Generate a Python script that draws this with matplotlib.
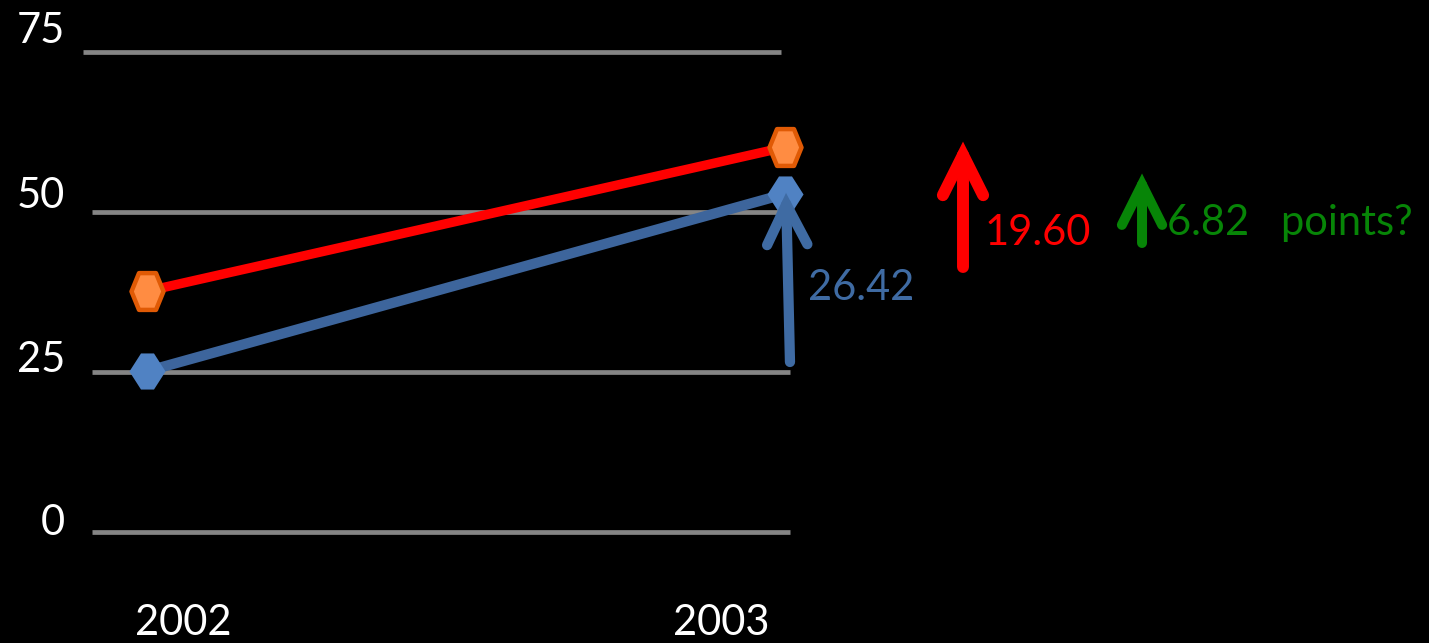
import matplotlib
matplotlib.use("Agg")
import matplotlib.pyplot as plt
from matplotlib.path import Path
from matplotlib.patches import FancyArrowPatch, ArrowStyle

# ---- data -------------------------------------------------------------
years = ["2002", "2003"]
red_series = [37.7, 60.2]
blue_series = [25.2, 52.9]
y_ticks = [0, 25, 50, 75]
y_tick_labels = ["0", "25", "50", "75"]

blue_change = 26.42
red_change = 19.60
gap_change = 6.82
blue_change_label = "26.42"
red_change_label = "19.60"
gap_label = "6.82  points?"

# ---- styling ----------------------------------------------------------
plt.rcParams["font.family"] = ["Lato", "DejaVu Sans"]
FS = 30

RED = "#FF0000"
ORANGE_FILL = "#FF8C42"
ORANGE_EDGE = "#E05A05"
BLUE_LINE = "#3D659C"
BLUE_MARK = "#5082C3"
BLUE_TEXT = "#3F6BA3"
GREEN = "#078507"
GRID = "#858585"

fig = plt.figure(figsize=(14.29, 6.43), dpi=100, facecolor="black")
ax = fig.add_axes([0, 0, 1, 1])
ax.set_facecolor("black")
ax.set_xlim(-0.2304, 2.0094)
ax.set_ylim(-17.27, 83.20)
ax.axis("off")

x = list(range(len(years)))

# horizontal guide lines (the top one sits a little further left)
grid_spans = {0: (-0.0862, 1.0078), 25: (-0.0862, 1.0078),
              50: (-0.0862, 1.0078), 75: (-0.1003, 0.9937)}
for v in y_ticks:
    x0, x1 = grid_spans[v]
    ax.plot([x0, x1], [v, v], color=GRID, lw=3.4, solid_capstyle="butt", zorder=1)

# y labels, right aligned to the left of the guide lines
label_lift = {0: -0.39, 25: 0.08, 50: 0.70, 75: 1.48}
for v, lab in zip(y_ticks, y_tick_labels):
    ax.text(-0.1285, v + label_lift[v], lab, color="white", fontsize=FS,
            ha="right", va="baseline")

# year labels
year_x = [0.0572, 0.8997]
for xp, lab in zip(year_x, years):
    ax.text(xp, -16.02, lab, color="white", fontsize=FS, ha="center", va="baseline")

# hexagon markers
codes = [Path.MOVETO] + [Path.LINETO] * 5 + [Path.CLOSEPOLY]
blue_hex = Path([(1, 0), (0.36, 1), (-0.36, 1), (-1, 0), (-0.36, -1), (0.36, -1), (1, 0)], codes)
orange_hex = Path([(1, 0), (0.53, 1.15), (-0.53, 1.15), (-1, 0), (-0.53, -1.15), (0.53, -1.15), (1, 0)], codes)

ax.plot(x, red_series, color=RED, lw=6.8, solid_capstyle="butt", zorder=2)
ax.plot(x, blue_series, color=BLUE_LINE, lw=7.4, solid_capstyle="butt", zorder=2)
ax.plot(x, red_series, ls="none", marker=orange_hex, ms=26.5,
        mfc=ORANGE_FILL, mec=ORANGE_EDGE, mew=3.2, zorder=3)
ax.plot(x, blue_series, ls="none", marker=blue_hex, ms=26,
        mfc=BLUE_MARK, mew=0, zorder=3)


def up_arrow(x0, y0, x1, y1, color, lw):
    style = ArrowStyle("->", head_length=29, head_width=14.5)
    arr = FancyArrowPatch((x0, y0), (x1, y1), arrowstyle=style, mutation_scale=1,
                          color=color, lw=lw, capstyle="round", joinstyle="miter",
                          shrinkA=0, shrinkB=0, zorder=4)
    ax.add_patch(arr)


# change arrows: blue and red arrows are as long as their stated change
blue_base = 26.64
up_arrow(1.0078, blue_base, 1.0016, blue_base + blue_change, BLUE_TEXT, 7.4)
ax.text(1.036, 36.33, blue_change_label, color=BLUE_TEXT, fontsize=FS, ha="left", va="baseline")

red_base = 41.48
up_arrow(1.279, red_base, 1.279, red_base + red_change, RED, 8.6)
ax.text(1.3135, 44.92, red_change_label, color=RED, fontsize=FS, ha="left", va="baseline")

up_arrow(1.5596, 45.23, 1.5596, 56.1, GREEN, 7.2)
ax.text(1.5987, 46.48, gap_label.replace("  ", "   "), color=GREEN, fontsize=FS,
        ha="left", va="baseline")

fig.savefig("out.png", dpi=100, facecolor="black")
